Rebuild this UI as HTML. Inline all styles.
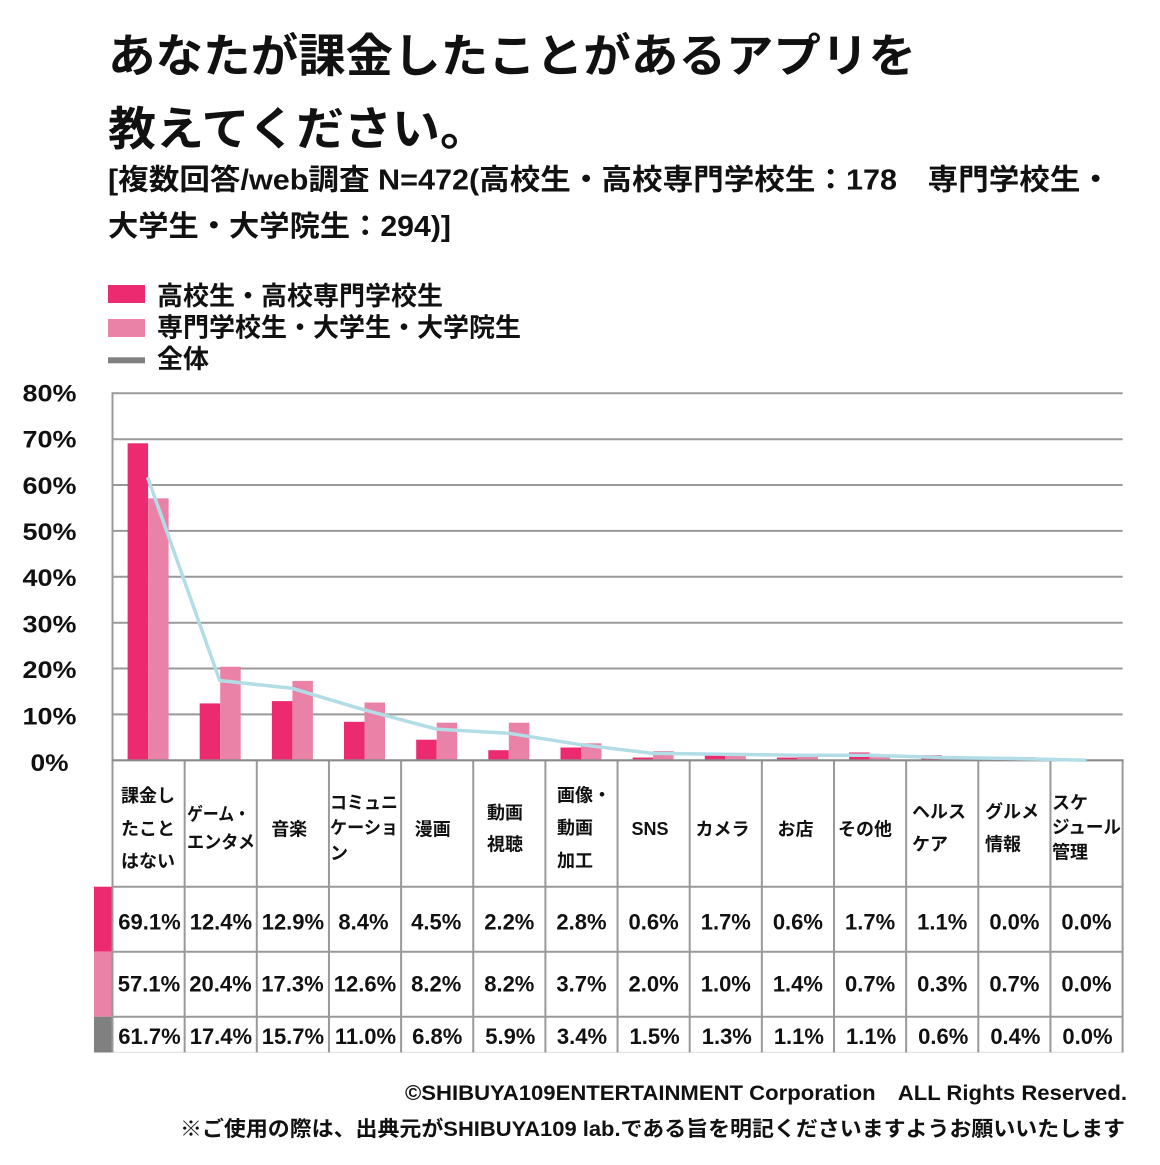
<!DOCTYPE html>
<html><head><meta charset="utf-8"><style>
html,body{margin:0;padding:0;background:#fff;}
svg{display:block;}
text{font-family:"Liberation Sans","Noto Sans CJK JP",sans-serif;fill:#111;}
.t{font-weight:700;font-size:46px;}
.s{font-weight:700;font-size:29px;}
.lg{font-weight:700;font-size:26px;}
.y{font-weight:700;font-size:24px;}
.h{font-weight:700;font-size:18px;}
.n{font-weight:700;font-size:22px;}
.f{font-weight:700;font-size:21px;}
</style></head><body>
<svg width="1160" height="1165" viewBox="0 0 1160 1165" xmlns="http://www.w3.org/2000/svg">
<rect width="1160" height="1165" fill="#fff"/>
<!-- Title -->
<text class="t" x="108" y="72" textLength="808" lengthAdjust="spacingAndGlyphs">あなたが課金したことがあるアプリを</text>
<text class="t" x="108" y="145" textLength="380" lengthAdjust="spacingAndGlyphs">教えてください。</text>
<text class="s" x="108" y="189.5" textLength="1003" lengthAdjust="spacingAndGlyphs">[複数回答/web調査 N=472(高校生・高校専門学校生：178　専門学校生・</text>
<text class="s" x="108" y="236" textLength="343" lengthAdjust="spacingAndGlyphs">大学生・大学院生：294)]</text>
<!-- Legend -->
<rect x="108" y="285" width="37" height="18" fill="#EC2A6F"/>
<rect x="108" y="319" width="37" height="18" fill="#E982A6"/>
<rect x="108" y="357.3" width="37" height="6" fill="#808080"/>
<text class="lg" x="157" y="305" textLength="286" lengthAdjust="spacingAndGlyphs">高校生・高校専門学校生</text>
<text class="lg" x="157" y="336.5" textLength="364" lengthAdjust="spacingAndGlyphs">専門学校生・大学生・大学院生</text>
<text class="lg" x="157" y="368" textLength="52" lengthAdjust="spacingAndGlyphs">全体</text>
<!-- Y labels -->
<g text-anchor="middle">
<text class="y" x="49.5" y="401.3" textLength="54" lengthAdjust="spacingAndGlyphs">80%</text>
<text class="y" x="49.5" y="447.7" textLength="54" lengthAdjust="spacingAndGlyphs">70%</text>
<text class="y" x="49.5" y="494" textLength="54" lengthAdjust="spacingAndGlyphs">60%</text>
<text class="y" x="49.5" y="540" textLength="54" lengthAdjust="spacingAndGlyphs">50%</text>
<text class="y" x="49.5" y="586" textLength="54" lengthAdjust="spacingAndGlyphs">40%</text>
<text class="y" x="49.5" y="632.5" textLength="54" lengthAdjust="spacingAndGlyphs">30%</text>
<text class="y" x="49.5" y="678" textLength="54" lengthAdjust="spacingAndGlyphs">20%</text>
<text class="y" x="49.5" y="724.5" textLength="54" lengthAdjust="spacingAndGlyphs">10%</text>
<text class="y" x="49.5" y="771" textLength="38" lengthAdjust="spacingAndGlyphs">0%</text>
</g>
<!-- Gridlines -->
<g stroke="#999" stroke-width="2">
<line x1="112.5" y1="393.3" x2="1122.6" y2="393.3"/>
<line x1="112.5" y1="439.2" x2="1122.6" y2="439.2"/>
<line x1="112.5" y1="485.05" x2="1122.6" y2="485.05"/>
<line x1="112.5" y1="530.9" x2="1122.6" y2="530.9"/>
<line x1="112.5" y1="576.8" x2="1122.6" y2="576.8"/>
<line x1="112.5" y1="622.7" x2="1122.6" y2="622.7"/>
<line x1="112.5" y1="668.5" x2="1122.6" y2="668.5"/>
<line x1="112.5" y1="714.4" x2="1122.6" y2="714.4"/>
</g>
<!-- Bars -->
<g fill="#EC2A6F">
<rect x="127.6" y="443.3" width="20.5" height="317"/>
<rect x="199.7" y="703.4" width="20.5" height="56.9"/>
<rect x="271.9" y="701.1" width="20.5" height="59.2"/>
<rect x="344" y="721.8" width="20.5" height="38.5"/>
<rect x="416.2" y="739.7" width="20.5" height="20.6"/>
<rect x="488.3" y="750.2" width="20.5" height="10.1"/>
<rect x="560.5" y="747.5" width="20.5" height="12.8"/>
<rect x="632.6" y="757.55" width="20.5" height="2.75"/>
<rect x="704.8" y="752.5" width="20.5" height="7.8"/>
<rect x="776.9" y="757.55" width="20.5" height="2.75"/>
<rect x="849.1" y="752.5" width="20.5" height="7.8"/>
<rect x="921.2" y="755.25" width="20.5" height="5.05"/>
</g>
<g fill="#E982A6">
<rect x="148.1" y="498.35" width="20.5" height="261.95"/>
<rect x="220.2" y="666.7" width="20.5" height="93.6"/>
<rect x="292.4" y="680.9" width="20.5" height="79.4"/>
<rect x="364.5" y="702.5" width="20.5" height="57.8"/>
<rect x="436.7" y="722.7" width="20.5" height="37.6"/>
<rect x="508.8" y="722.7" width="20.5" height="37.6"/>
<rect x="581" y="743.3" width="20.5" height="17"/>
<rect x="653.1" y="751.1" width="20.5" height="9.2"/>
<rect x="725.3" y="755.7" width="20.5" height="4.6"/>
<rect x="797.4" y="753.9" width="20.5" height="6.4"/>
<rect x="869.6" y="757.1" width="20.5" height="3.2"/>
<rect x="941.7" y="758.9" width="20.5" height="1.4"/>
<rect x="1013.9" y="757.1" width="20.5" height="3.2"/>
</g>
<!-- Left row swatches -->
<rect x="94" y="886.7" width="18.5" height="65" fill="#EC2A6F"/>
<rect x="94" y="951.7" width="18.5" height="65" fill="#E982A6"/>
<rect x="94" y="1016.7" width="18.5" height="35.8" fill="#808080"/>
<!-- Table lines -->
<line x1="112.5" y1="1052.3" x2="1122.6" y2="1052.3" stroke="#ddd" stroke-width="1"/>
<g stroke="#999" stroke-width="2">
<line x1="112.5" y1="886.7" x2="1122.6" y2="886.7"/>
<line x1="112.5" y1="951.7" x2="1122.6" y2="951.7"/>
<line x1="112.5" y1="1016.7" x2="1122.6" y2="1016.7"/>
<line x1="112.5" y1="392.3" x2="112.5" y2="1052.5"/>
<line x1="184.65" y1="760" x2="184.65" y2="1052.5"/>
<line x1="256.8" y1="760" x2="256.8" y2="1052.5"/>
<line x1="328.95" y1="760" x2="328.95" y2="1052.5"/>
<line x1="401.1" y1="760" x2="401.1" y2="1052.5"/>
<line x1="473.25" y1="760" x2="473.25" y2="1052.5"/>
<line x1="545.4" y1="760" x2="545.4" y2="1052.5"/>
<line x1="617.55" y1="760" x2="617.55" y2="1052.5"/>
<line x1="689.7" y1="760" x2="689.7" y2="1052.5"/>
<line x1="761.85" y1="760" x2="761.85" y2="1052.5"/>
<line x1="834" y1="760" x2="834" y2="1052.5"/>
<line x1="906.15" y1="760" x2="906.15" y2="1052.5"/>
<line x1="978.3" y1="760" x2="978.3" y2="1052.5"/>
<line x1="1050.45" y1="760" x2="1050.45" y2="1052.5"/>
<line x1="1122.6" y1="760" x2="1122.6" y2="1052.5"/>
</g>
<line x1="111.5" y1="760.3" x2="1123.6" y2="760.3" stroke="#8a8a8a" stroke-width="2.2"/>
<!-- Overall line -->
<polyline fill="none" stroke="#B2DDE6" stroke-width="3.5" stroke-linejoin="round"
points="147.6,477.25 219.7,680.5 291.9,688.3 364,709.8 436.2,729.1 508.3,733.2 580.5,744.7 652.6,753.4 724.8,754.3 796.9,755.25 869.1,755.25 941.2,757.55 1013.4,758.5 1086.5,760.3"/>
<!-- Header labels -->
<g>
<text class="h" x="121" y="802">課金し</text>
<text class="h" x="121" y="835">たこと</text>
<text class="h" x="121" y="867.5">はない</text>
<text class="h" x="187" y="820.5" textLength="63" lengthAdjust="spacingAndGlyphs">ゲーム・</text>
<text class="h" x="187" y="848.5" textLength="68" lengthAdjust="spacingAndGlyphs">エンタメ</text>
<text class="h" x="289.2" y="835.5" text-anchor="middle">音楽</text>
<text class="h" x="330" y="809" textLength="68" lengthAdjust="spacingAndGlyphs">コミュニ</text>
<text class="h" x="330" y="834" textLength="68" lengthAdjust="spacingAndGlyphs">ケーショ</text>
<text class="h" x="330" y="859.5">ン</text>
<text class="h" x="432.8" y="835.5" text-anchor="middle">漫画</text>
<text class="h" x="487" y="819">動画</text>
<text class="h" x="487" y="850.5">視聴</text>
<text class="h" x="557" y="801.5">画像・</text>
<text class="h" x="557" y="834">動画</text>
<text class="h" x="557" y="867">加工</text>
<text class="h" x="650" y="835" text-anchor="middle">SNS</text>
<text class="h" x="722.5" y="835.5" text-anchor="middle">カメラ</text>
<text class="h" x="795.5" y="835.5" text-anchor="middle">お店</text>
<text class="h" x="865" y="835.5" text-anchor="middle">その他</text>
<text class="h" x="912" y="817.8">ヘルス</text>
<text class="h" x="912" y="850.5">ケア</text>
<text class="h" x="985" y="817.8">グルメ</text>
<text class="h" x="985" y="850.5">情報</text>
<text class="h" x="1052" y="809">スケ</text>
<text class="h" x="1052" y="833.5" textLength="69" lengthAdjust="spacingAndGlyphs">ジュール</text>
<text class="h" x="1052" y="858.5">管理</text>
</g>
<!-- Numbers -->
<g text-anchor="middle">
<text class="n" x="149.5" y="929.3">69.1%</text>
<text class="n" x="220.9" y="929.3">12.4%</text>
<text class="n" x="292.9" y="929.3">12.9%</text>
<text class="n" x="363.5" y="929.3">8.4%</text>
<text class="n" x="436.2" y="929.3">4.5%</text>
<text class="n" x="509.3" y="929.3">2.2%</text>
<text class="n" x="581.5" y="929.3">2.8%</text>
<text class="n" x="653.6" y="929.3">0.6%</text>
<text class="n" x="725.8" y="929.3">1.7%</text>
<text class="n" x="797.9" y="929.3">0.6%</text>
<text class="n" x="870.1" y="929.3">1.7%</text>
<text class="n" x="942.2" y="929.3">1.1%</text>
<text class="n" x="1014.4" y="929.3">0.0%</text>
<text class="n" x="1086.5" y="929.3">0.0%</text>

<text class="n" x="149" y="991.7">57.1%</text>
<text class="n" x="220.5" y="991.7">20.4%</text>
<text class="n" x="292.5" y="991.7">17.3%</text>
<text class="n" x="365" y="991.7">12.6%</text>
<text class="n" x="436.2" y="991.7">8.2%</text>
<text class="n" x="509.3" y="991.7">8.2%</text>
<text class="n" x="581.5" y="991.7">3.7%</text>
<text class="n" x="653.6" y="991.7">2.0%</text>
<text class="n" x="725.8" y="991.7">1.0%</text>
<text class="n" x="797.9" y="991.7">1.4%</text>
<text class="n" x="870.1" y="991.7">0.7%</text>
<text class="n" x="942.2" y="991.7">0.3%</text>
<text class="n" x="1014.4" y="991.7">0.7%</text>
<text class="n" x="1086.5" y="991.7">0.0%</text>

<text class="n" x="149.5" y="1044">61.7%</text>
<text class="n" x="220.9" y="1044">17.4%</text>
<text class="n" x="292.9" y="1044">15.7%</text>
<text class="n" x="365.5" y="1044">11.0%</text>
<text class="n" x="437.2" y="1044">6.8%</text>
<text class="n" x="510.3" y="1044">5.9%</text>
<text class="n" x="582" y="1044">3.4%</text>
<text class="n" x="654.6" y="1044">1.5%</text>
<text class="n" x="726.8" y="1044">1.3%</text>
<text class="n" x="798.9" y="1044">1.1%</text>
<text class="n" x="871.1" y="1044">1.1%</text>
<text class="n" x="943.2" y="1044">0.6%</text>
<text class="n" x="1015.4" y="1044">0.4%</text>
<text class="n" x="1087.5" y="1044">0.0%</text>
</g>
<!-- Footer -->
<text class="f" x="405" y="1100" textLength="722" lengthAdjust="spacingAndGlyphs">©SHIBUYA109ENTERTAINMENT Corporation　ALL Rights Reserved.</text>
<text class="f" x="180" y="1136" textLength="945" lengthAdjust="spacingAndGlyphs">※ご使用の際は、出典元がSHIBUYA109 lab.である旨を明記くださいますようお願いいたします</text>
</svg>
</body></html>
